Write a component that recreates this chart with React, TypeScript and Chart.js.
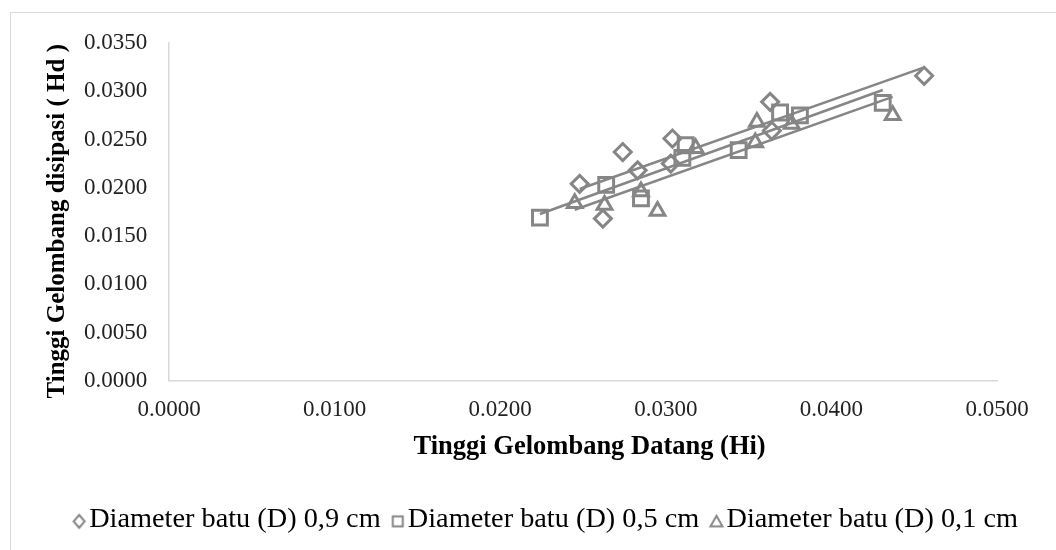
import React, { useEffect, useRef } from 'react';
import { Chart, registerables } from 'chart.js';

Chart.register(...registerables);

// ---- data ----
const seriesNames = [
  'Diameter batu (D) 0,9 cm',
  'Diameter batu (D) 0,5 cm',
  'Diameter batu (D) 0,1 cm',
];
const xTickValues = [0, 0.01, 0.02, 0.03, 0.04, 0.05];
const yTickValues = [0, 0.005, 0.01, 0.015, 0.02, 0.025, 0.03, 0.035];

const hiD09 = [0.0248, 0.0262, 0.0274, 0.0283, 0.0303, 0.0304, 0.0363, 0.0364, 0.0456];
const hdD09 = [0.0204, 0.0168, 0.0237, 0.0218, 0.0225, 0.0251, 0.0289, 0.0259, 0.0316];

const hiD05 = [0.0224, 0.0264, 0.0285, 0.0310, 0.0312, 0.0344, 0.0369, 0.0381, 0.0431];
const hdD05 = [0.0169, 0.0203, 0.0189, 0.0231, 0.0244, 0.0239, 0.0278, 0.0275, 0.0288];

const hiD01 = [0.0245, 0.0263, 0.0285, 0.0295, 0.0318, 0.0355, 0.0354, 0.0376, 0.0437];
const hdD01 = [0.0184, 0.0182, 0.0196, 0.0176, 0.0241, 0.0268, 0.0247, 0.0266, 0.0275];

const pointStyles = ['rectRot', 'rect', 'triangle'];
const pointRadii = [8.5, 10.5, 8.5];

const GRAY = '#868686';
const FONT = "'Liberation Serif', 'Times New Roman', serif";
const NB = '\u00A0';

function toPoints(xs: number[], ys: number[]) {
  return xs.map((x, i) => ({ x, y: ys[i] }));
}

function trend(xs: number[], ys: number[]) {
  const n = xs.length;
  const mx = xs.reduce((a, b) => a + b, 0) / n;
  const my = ys.reduce((a, b) => a + b, 0) / n;
  let sxy = 0;
  let sxx = 0;
  for (let i = 0; i < n; i++) {
    sxy += (xs[i] - mx) * (ys[i] - my);
    sxx += (xs[i] - mx) * (xs[i] - mx);
  }
  const b = sxy / sxx;
  const a = my - b * mx;
  const x0 = Math.min(...xs);
  const x1 = Math.max(...xs);
  return [
    { x: x0, y: a + b * x0 },
    { x: x1, y: a + b * x1 },
  ];
}

// legend marker images: small hollow gray shapes placed close to the label text
function legendMarker(kind: string): HTMLCanvasElement {
  const c = document.createElement('canvas');
  c.width = 40;
  c.height = 24;
  const g = c.getContext('2d')!;
  const cx = 28.6;
  const cy = 13.5;
  g.strokeStyle = GRAY;
  g.lineWidth = 2;
  g.beginPath();
  if (kind === 'rectRot') {
    g.moveTo(cx, cy - 6.5);
    g.lineTo(cx + 5.5, cy);
    g.lineTo(cx, cy + 6.5);
    g.lineTo(cx - 5.5, cy);
    g.closePath();
  } else if (kind === 'rect') {
    g.rect(cx - 5, cy - 5, 10, 10);
  } else {
    g.moveTo(cx, cy - 5.5);
    g.lineTo(cx + 6, cy + 5);
    g.lineTo(cx - 6, cy + 5);
    g.closePath();
  }
  g.stroke();
  return c;
}

export default function App() {
  const ref = useRef<HTMLCanvasElement | null>(null);

  useEffect(() => {
    document.body.style.overflow = 'hidden';
    const canvas = ref.current;
    if (!canvas) return;
    const series = [
      [hiD09, hdD09],
      [hiD05, hdD05],
      [hiD01, hdD01],
    ];
    const markerImages = pointStyles.map((s) => legendMarker(s));
    const markerSets = series.map(([xs, ys], i) => ({
      type: 'scatter' as const,
      label: seriesNames[i],
      data: toPoints(xs, ys),
      pointStyle: pointStyles[i],
      pointRadius: pointRadii[i],
      pointBorderWidth: 3,
      borderColor: GRAY,
      backgroundColor: 'rgba(255,255,255,0)',
      pointBackgroundColor: 'rgba(255,255,255,0)',
      pointBorderColor: GRAY,
      order: 2,
    }));
    const trendSets = series.map(([xs, ys], i) => ({
      type: 'scatter' as const,
      label: 'trend ' + seriesNames[i],
      data: trend(xs, ys),
      showLine: true,
      pointRadius: 0,
      borderColor: GRAY,
      borderWidth: 2.5,
      backgroundColor: GRAY,
      order: 1,
    }));

    const chart = new Chart(canvas, {
      type: 'scatter',
      data: { datasets: [...markerSets, ...trendSets] as any },
      options: {
        responsive: false,
        animation: false,
        layout: { padding: { left: 0, right: 18, top: 30, bottom: 6 } },
        plugins: {
          tooltip: { enabled: false },
          legend: {
            position: 'bottom',
            labels: {
              usePointStyle: true,
              boxWidth: 9,
              boxHeight: 9,
              padding: 4,
              color: '#000',
              font: { family: FONT, size: 28.3 },
              filter: (item: any) => item.datasetIndex < 3,
              generateLabels: (ch: any) => {
                const items = Chart.defaults.plugins.legend.labels.generateLabels(ch);
                return items.map((it: any) => ({
                  ...it,
                  pointStyle: it.datasetIndex < 3 ? markerImages[it.datasetIndex] : it.pointStyle,
                }));
              },
            },
          },
        },
        scales: {
          x: {
            type: 'linear',
            min: xTickValues[0],
            max: xTickValues[xTickValues.length - 1],
            afterBuildTicks: (s: any) => {
              s.ticks = xTickValues.map((v) => ({ value: v }));
            },
            afterFit: (s: any) => {
              s.height = 121;
            },
            grid: { display: true, color: 'rgba(0,0,0,0)', drawTicks: false },
            border: { display: true, color: '#d9d9d9', width: 1.5 },
            ticks: {
              padding: 15,
              color: '#222',
              font: { family: FONT, size: 23 },
              callback: (v: any) => Number(v).toFixed(4),
            },
            title: {
              display: true,
              text: NB + NB + 'Tinggi Gelombang Datang (Hi)',
              color: '#000',
              font: { family: FONT, size: 26.5, weight: 'bold' },
              padding: { top: 0, bottom: 39 },
            },
          },
          y: {
            type: 'linear',
            position: 'left',
            min: yTickValues[0],
            max: yTickValues[yTickValues.length - 1],
            afterBuildTicks: (s: any) => {
              s.ticks = yTickValues.map((v) => ({ value: v }));
            },
            afterFit: (s: any) => {
              s.width = 158;
            },
            grid: { display: true, color: 'rgba(0,0,0,0)', drawTicks: false },
            border: { display: true, color: '#d9d9d9', width: 1.5 },
            ticks: {
              padding: 16,
              color: '#222',
              font: { family: FONT, size: 23 },
              callback: (v: any) => Number(v).toFixed(4) + NB,
            },
            title: {
              display: true,
              text: 'Tinggi Gelombang disipasi ( Hd )' + NB + NB + NB,
              color: '#000',
              font: { family: FONT, size: 25, weight: 'bold' },
              padding: { top: 32, bottom: 0 },
            },
          },
          yRightSpace: {
            type: 'linear',
            position: 'right',
            display: true,
            afterFit: (s: any) => {
              s.width = 76;
            },
            grid: { display: false, drawTicks: false },
            border: { display: false },
            ticks: { display: false },
          },
        },
      } as any,
    });
    return () => chart.destroy();
  }, []);

  return (
    <div
      style={{
        position: 'fixed',
        left: 10,
        top: 12,
        width: 1080,
        height: 560,
        border: '1px solid #d9d9d9',
        background: '#fff',
      }}
    >
      <canvas
        ref={ref}
        width={1080}
        height={537}
        style={{ position: 'absolute', left: 0, top: 0, width: 1080, height: 537 }}
      />
    </div>
  );
}
